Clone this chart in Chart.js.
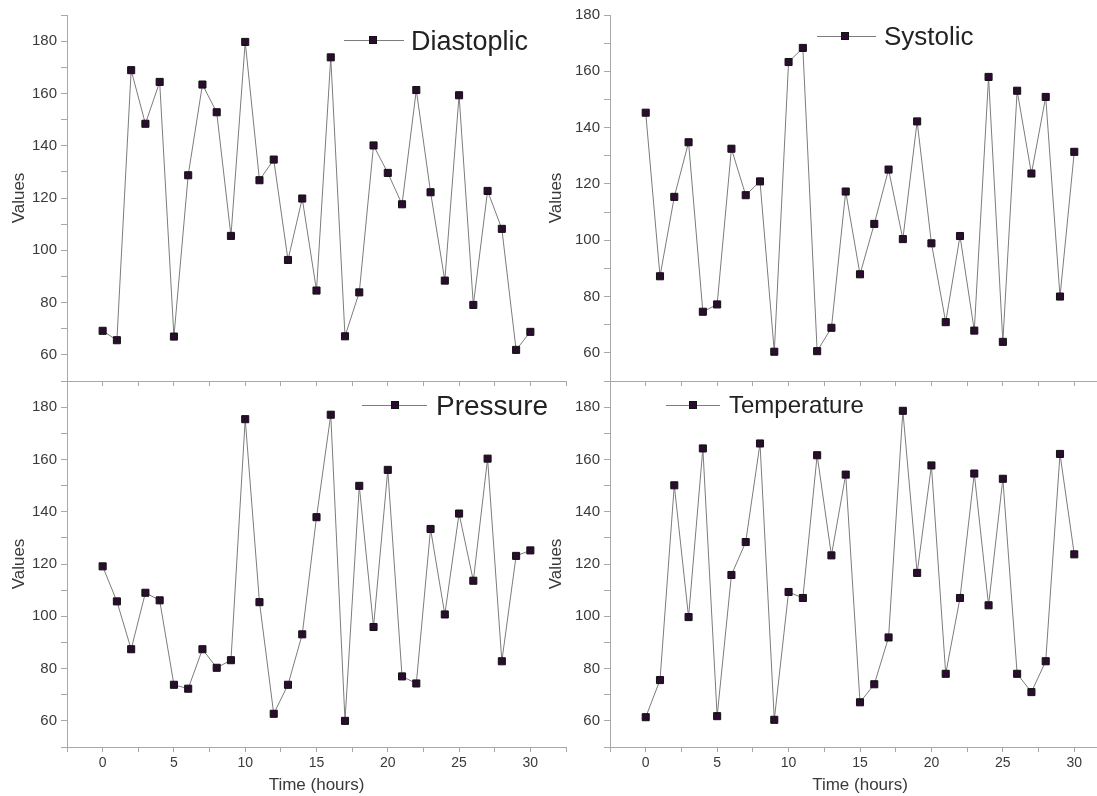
<!DOCTYPE html>
<html>
<head>
<meta charset="utf-8">
<script src="https://cdn.jsdelivr.net/npm/chart.js@4.4.1/dist/chart.umd.min.js"></script>
<style>
  html, body { margin: 0; padding: 0; background: #ffffff; width: 1097px; height: 796px; overflow: hidden; }
  canvas { position: absolute; }
</style>
</head>
<body>
<canvas id="tl" width="590" height="400" style="left:0px;top:0px;"></canvas>
<canvas id="tr" width="577" height="400" style="left:543px;top:0px;"></canvas>
<canvas id="bl" width="590" height="430" style="left:0px;top:366px;"></canvas>
<canvas id="br" width="577" height="430" style="left:543px;top:366px;"></canvas>
<script>
// ---- data ----
const hours = [0,1,2,3,4,5,6,7,8,9,10,11,12,13,14,15,16,17,18,19,20,21,22,23,24,25,26,27,28,29,30];
const diastoplic = [69.2,65.6,168.9,148.4,164.4,67.0,128.7,163.4,152.8,105.5,179.7,126.8,134.7,96.3,119.8,84.6,173.8,67.1,83.9,140.1,129.6,117.6,161.3,122.2,88.4,159.3,79.1,122.7,108.2,61.9,68.8];
const systolic = [145.3,87.2,115.4,134.8,74.6,77.2,132.5,116.0,120.9,60.4,163.3,168.3,60.6,68.9,117.3,87.9,105.8,125.1,100.4,142.2,98.9,70.9,101.5,67.9,158.0,63.9,153.1,123.7,150.9,80.0,131.4];
const pressure = [119.1,105.7,87.4,109.0,106.1,73.8,72.3,87.4,80.3,83.2,175.4,105.4,62.7,73.8,93.1,137.9,177.1,60.0,149.9,95.9,156.0,77.0,74.3,133.4,100.7,139.3,113.6,160.3,82.8,123.1,125.2];
const temperature = [61.4,75.6,150.1,99.7,164.2,61.8,115.8,128.4,166.1,60.4,109.3,107.0,161.6,123.3,154.2,67.1,74.0,91.9,178.6,116.6,157.7,78.0,107.0,154.6,104.2,152.6,78.0,71.0,82.8,162.1,123.7];
const xTickLabels = [0,5,10,15,20,25,30];
const yTickLabels = [60,80,100,120,140,160,180];
const seriesNames = ['Diastoplic','Systolic','Pressure','Temperature'];

const FONT = '"Liberation Sans", Arial, Helvetica, sans-serif';
const AXIS = '#a8a8a8';
const TXT = '#3a3a3a';
const LINE = '#7c7c7c';
const MARK = '#2a0c2e';

const legendPlugin = {
  id: 'panelLegend',
  afterDraw(chart, args, o) {
    const ctx = chart.ctx;
    ctx.save();
    ctx.strokeStyle = LINE;
    ctx.lineWidth = 1;
    ctx.beginPath();
    ctx.moveTo(o.x1, o.y + 0.5);
    ctx.lineTo(o.x2, o.y + 0.5);
    ctx.stroke();
    const s = 3.5;
    ctx.fillStyle = MARK;
    ctx.strokeStyle = '#111';
    ctx.fillRect(o.mx - s, o.y - s, 2 * s, 2 * s);
    ctx.strokeRect(o.mx - s, o.y - s, 2 * s, 2 * s);
    ctx.fillStyle = '#222';
    ctx.font = o.size + 'px ' + FONT;
    ctx.textAlign = 'left';
    ctx.textBaseline = 'alphabetic';
    ctx.fillText(o.text, o.tx, o.base);
    ctx.restore();
  }
};

function makeChart(id, values, name, opt) {
  const points = hours.map((h, i) => ({ x: h, y: values[i] }));
  return new Chart(document.getElementById(id), {
    type: 'line',
    data: {
      datasets: [{
        label: name,
        data: points,
        borderColor: LINE,
        borderWidth: 1,
        tension: 0,
        fill: false,
        pointStyle: 'rect',
        pointRadius: 5,
        pointBackgroundColor: MARK,
        pointBorderColor: '#111',
        pointBorderWidth: 1
      }]
    },
    options: {
      responsive: false,
      animation: false,
      events: [],
      devicePixelRatio: 1,
      layout: { padding: { top: 15, right: opt.padRight, left: 0, bottom: 0 } },
      plugins: {
        legend: { display: false },
        tooltip: { enabled: false },
        panelLegend: opt.legend
      },
      scales: {
        x: {
          type: 'linear',
          min: -2.5,
          max: 32.5,
          afterFit: s => { s.height = opt.xHeight; },
          border: { display: true, color: AXIS, width: 1 },
          grid: { display: true, drawOnChartArea: false, drawTicks: true, tickLength: 5, color: AXIS },
          ticks: {
            stepSize: 2.5,
            autoSkip: false,
            maxRotation: 0,
            padding: 3,
            color: TXT,
            font: { family: FONT, size: 14 },
            callback: v => (opt.xLabels && xTickLabels.includes(v)) ? String(v) : ''
          },
          title: {
            display: opt.xLabels,
            text: 'Time (hours)',
            color: TXT,
            font: { family: FONT, size: 17 },
            padding: { top: 0, bottom: 0 }
          }
        },
        y: {
          type: 'linear',
          min: 50,
          max: opt.yMax,
          afterFit: s => { s.width = 67; },
          border: { display: true, color: AXIS, width: 1 },
          grid: { display: true, drawOnChartArea: false, drawTicks: true, tickLength: 6, color: AXIS },
          ticks: {
            stepSize: 10,
            autoSkip: false,
            padding: 4,
            color: TXT,
            font: { family: FONT, size: 15 },
            callback: v => yTickLabels.includes(v) ? String(v) : ''
          },
          title: {
            display: true,
            text: 'Values',
            color: TXT,
            font: { family: FONT, size: 17 },
            padding: { top: opt.yTitlePad, bottom: 0 }
          }
        }
      }
    },
    plugins: [legendPlugin]
  });
}

makeChart('tl', diastoplic, seriesNames[0], {
  padRight: 24, xHeight: 19, yMax: 190, xLabels: false, yTitlePad: 9,
  legend: { x1: 344, x2: 404, mx: 373, y: 40, tx: 411, base: 50, size: 27, text: seriesNames[0] }
});
makeChart('tr', systolic, seriesNames[1], {
  padRight: 10, xHeight: 19, yMax: 180, xLabels: false, yTitlePad: 3,
  legend: { x1: 274, x2: 333, mx: 302, y: 36, tx: 341, base: 45, size: 26, text: seriesNames[1] }
});
makeChart('bl', pressure, seriesNames[2], {
  padRight: 24, xHeight: 49, yMax: 190, xLabels: true, yTitlePad: 9,
  legend: { x1: 362, x2: 427, mx: 395, y: 39, tx: 436, base: 49, size: 28, text: seriesNames[2] }
});
makeChart('br', temperature, seriesNames[3], {
  padRight: 10, xHeight: 49, yMax: 190, xLabels: true, yTitlePad: 3,
  legend: { x1: 123, x2: 177, mx: 150, y: 39, tx: 186, base: 47, size: 24, text: seriesNames[3] }
});
</script>
</body>
</html>
